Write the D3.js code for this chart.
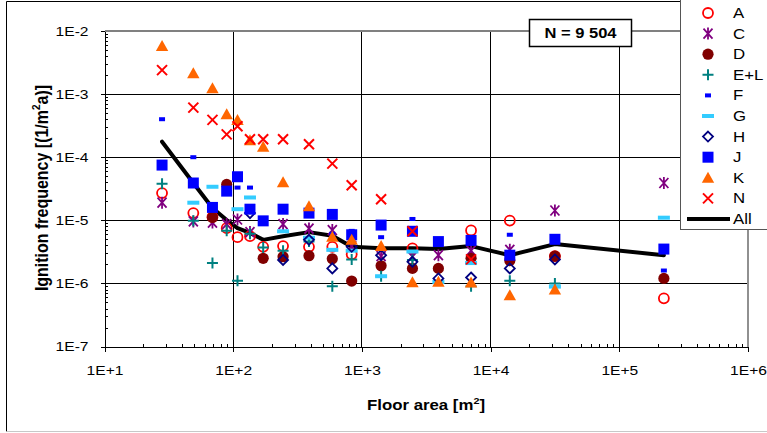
<!DOCTYPE html>
<html>
<head>
<meta charset="utf-8">
<script src="https://cdn.jsdelivr.net/npm/d3@7"></script>
<style>
  body { margin: 0; background: #fff; }
  svg { display: block; font-family: Arial, "Liberation Sans", sans-serif; }
</style>
</head>
<body>
<svg id="chart" width="767" height="433"></svg>
<script>
// Floor-area classes (m²) and ignition frequency per class (1/(m²·a)); null = no value
const floorArea = [28, 49, 69, 89, 108, 135, 171, 244, 388, 589, 833, 1410, 2470, 3930, 7050, 14100, 31600, 222000];

const A   = [2.7e-5, 1.3e-5, 1.13e-5, 7.5e-6, 5.4e-6, 5.6e-6, 3.8e-6, 3.9e-6, 3.8e-6, 3.8e-6, 2.9e-6, null, 3.6e-6, null, 6.9e-6, 9.9e-6, 2.7e-6, 5.8e-7];
const C   = [1.9e-5, 9.6e-6, 9.2e-6, 8.7e-6, 1.03e-5, 6.5e-6, null, 8.7e-6, 7.4e-6, 7.0e-6, 3.9e-6, 2.7e-6, 2.65e-6, 2.8e-6, 3.3e-6, 3.4e-6, 1.43e-5, 3.9e-5];
const D   = [null, null, 1.11e-5, 3.7e-5, null, null, 2.5e-6, 2.65e-6, 2.75e-6, 2.46e-6, 1.09e-6, 1.9e-6, 1.73e-6, 1.73e-6, 2.5e-6, 2.3e-6, 2.7e-6, 1.2e-6];
const EL  = [3.8e-5, 9.8e-6, 2.1e-6, 6.8e-6, 1.1e-6, 6.1e-6, 3.7e-6, 3.3e-6, 4.6e-6, 9.0e-7, 2.4e-6, 1.3e-6, 2.35e-6, null, 9.0e-7, 1.1e-6, 1.0e-6, null];
const F   = [4.0e-4, 1.0e-4, null, null, 3.3e-5, 3.3e-5, null, null, null, 6.1e-6, 6.8e-6, 5.4e-6, 1.05e-5, null, null, 5.9e-6, null, 1.6e-6];
const G   = [null, 1.9e-5, 3.4e-5, null, 1.5e-5, 2.3e-5, null, 6.7e-6, 5.3e-6, 3.4e-6, 3.3e-6, 1.3e-6, 3.2e-6, 1.05e-6, 2.1e-6, null, 8.9e-7, 1.1e-5];
const H   = [null, null, null, null, null, 1.3e-5, null, 2.35e-6, 4.9e-6, 1.73e-6, 3.8e-6, 2.8e-6, 2.2e-6, 1.2e-6, 1.24e-6, 1.73e-6, 2.4e-6, null];
const J   = [7.5e-5, 3.9e-5, 1.6e-5, 2.9e-5, 4.9e-5, 1.5e-5, 9.8e-6, 1.5e-5, 1.3e-5, 1.24e-5, 5.9e-6, 8.4e-6, 6.7e-6, 4.6e-6, 4.8e-6, 2.8e-6, 5.0e-6, 3.5e-6];
const K   = [5.8e-3, 2.14e-3, 1.24e-3, 4.8e-4, 3.9e-4, 1.85e-4, 1.47e-4, 4.0e-5, 1.67e-5, 5.5e-6, 4.9e-6, 3.9e-6, 1.04e-6, 1.06e-6, 1.03e-6, 6.5e-7, 8.0e-7, null];
const N   = [2.4e-3, 6.1e-4, 3.9e-4, 2.3e-4, 3.1e-4, 1.92e-4, 1.92e-4, 1.92e-4, 1.6e-4, 7.9e-5, 3.6e-5, 2.16e-5, 6.7e-6, null, 2.4e-6, null, null, null];
const All = [1.76e-4, 3.9e-5, 1.57e-5, 1.01e-5, 7.5e-6, 6.3e-6, 4.9e-6, 5.6e-6, 6.5e-6, 5.7e-6, 3.8e-6, 3.6e-6, 3.6e-6, 3.5e-6, 3.9e-6, 2.8e-6, 4.2e-6, 2.8e-6];

const xTicks = [1e1, 1e2, 1e3, 1e4, 1e5, 1e6];
const xTickLabels = ["1E+1", "1E+2", "1E+3", "1E+4", "1E+5", "1E+6"];
const yTicks = [1e-7, 1e-6, 1e-5, 1e-4, 1e-3, 1e-2];
const yTickLabels = ["1E-7", "1E-6", "1E-5", "1E-4", "1E-3", "1E-2"];
const sampleSize = "N = 9 504";

// Marker outlines, centred on (0,0)
const shapes = {
  circle:   "M5,0A5,5 0 1,1 -5,0A5,5 0 1,1 5,0Z",
  dot:      "M5.6,0A5.6,5.6 0 1,1 -5.6,0A5.6,5.6 0 1,1 5.6,0Z",
  asterisk: "M-4.5,-5L4.5,5M-4.5,5L4.5,-5M0,-6V6",
  plus:     "M-5.5,0H5.5M0,-5.5V5.5",
  shortBar: "M-3,-2H3V2H-3Z",
  longBar:  "M-6,-2H6V2H-6Z",
  diamond:  "M0,-5L5,0L0,5L-5,0Z",
  square:   "M-5.5,-5.5H5.5V5.5H-5.5Z",
  triangle: "M0,-6L6.2,5L-6.2,5Z",
  cross:    "M-5,-5L5,5M-5,5L5,-5"
};

const series = [
  { name: "A",   values: A,  shape: "circle",   fill: "none",    stroke: "#ff0000", sw: 1.8 },
  { name: "C",   values: C,  shape: "asterisk", fill: "none",    stroke: "#800080", sw: 1.8 },
  { name: "D",   values: D,  shape: "dot",      fill: "#800000", stroke: "none",    sw: 0 },
  { name: "E+L", values: EL, shape: "plus",     fill: "none",    stroke: "#008080", sw: 2 },
  { name: "F",   values: F,  shape: "shortBar", fill: "#0000ff", stroke: "none",    sw: 0 },
  { name: "G",   values: G,  shape: "longBar",  fill: "#33ccff", stroke: "none",    sw: 0 },
  { name: "H",   values: H,  shape: "diamond",  fill: "none",    stroke: "#000080", sw: 1.8 },
  { name: "J",   values: J,  shape: "square",   fill: "#0000ff", stroke: "none",    sw: 0 },
  { name: "K",   values: K,  shape: "triangle", fill: "#ff6600", stroke: "none",    sw: 0 },
  { name: "N",   values: N,  shape: "cross",    fill: "none",    stroke: "#ff0000", sw: 2 }
];

const svg = d3.select("#chart");
const x = d3.scaleLog().domain([1e1, 1e6]).range([104.5, 748]);
const y = d3.scaleLog().domain([1e-7, 1e-2]).range([346.5, 31]);

svg.append("rect").attr("width", 767).attr("height", 433).attr("fill", "#fff");

// outer chart frame
svg.append("path").attr("d", "M6.5,431.5V1.5H767").attr("fill", "none").attr("stroke", "#000");
svg.append("path").attr("d", "M6.5,431.5H767").attr("fill", "none").attr("stroke", "#c8c8c8");

// gridlines at each decade
const grid = svg.append("g").attr("shape-rendering", "crispEdges");
grid.selectAll(".gx").data(xTicks.slice(1, -1)).join("line")
  .attr("x1", d => x(d)).attr("x2", d => x(d)).attr("y1", y(1e-2)).attr("y2", y(1e-7))
  .attr("stroke", "#000");
grid.selectAll(".gy").data(yTicks.slice(1, -1)).join("line")
  .attr("x1", x(1e1)).attr("x2", x(1e6)).attr("y1", d => y(d)).attr("y2", d => y(d))
  .attr("stroke", "#000");

// plot-area border (top and right)
grid.append("line").attr("x1", x(1e1)).attr("x2", x(1e6)).attr("y1", y(1e-2)).attr("y2", y(1e-2))
  .attr("stroke", "#808080").attr("stroke-width", 2);
grid.append("line").attr("x1", x(1e6)).attr("x2", x(1e6)).attr("y1", y(1e-2)).attr("y2", y(1e-7))
  .attr("stroke", "#909090").attr("stroke-width", 1.5);

// minor tick positions (2..9 within each decade)
const minorX = [], minorY = [];
for (let e = 1; e < 6; e++) for (let m = 2; m <= 9; m++) minorX.push(m * Math.pow(10, e));
for (let e = -7; e < -2; e++) for (let m = 2; m <= 9; m++) minorY.push(m * Math.pow(10, e));

const fmtX = d => xTickLabels[xTicks.indexOf(d)];
const fmtY = d => yTickLabels[yTicks.indexOf(d)];

// y axis
const yAxisG = svg.append("g").attr("transform", `translate(${x(1e1)},0)`).attr("shape-rendering", "crispEdges");
yAxisG.call(d3.axisLeft(y).tickValues(yTicks).tickSize(4).tickSizeOuter(0).tickFormat(fmtY));
const yMinor = svg.append("g").attr("transform", `translate(${x(1e1)},0)`).attr("shape-rendering", "crispEdges");
yMinor.call(d3.axisLeft(y).tickValues(minorY).tickSize(-3).tickSizeOuter(0).tickFormat(""));
yMinor.select(".domain").remove();

// x axis
const xAxisG = svg.append("g").attr("transform", `translate(0,${y(1e-7)})`).attr("shape-rendering", "crispEdges");
xAxisG.call(d3.axisBottom(x).tickValues(xTicks).tickSize(5).tickSizeOuter(0).tickFormat(fmtX));
const xMinor = svg.append("g").attr("transform", `translate(0,${y(1e-7)})`).attr("shape-rendering", "crispEdges");
xMinor.call(d3.axisBottom(x).tickValues(minorX).tickSize(-3).tickSizeOuter(0).tickFormat(""));
xMinor.select(".domain").remove();

[yAxisG, xAxisG, yMinor, xMinor].forEach(g => {
  g.selectAll(".domain, line").attr("stroke", "#000");
});
yAxisG.selectAll("text")
  .attr("font-size", 13).attr("font-family", "Arial, 'Liberation Sans', sans-serif").attr("fill", "#000")
  .attr("x", -13.3).attr("dy", "0.34em")
  .attr("transform", "scale(1.2,1)");
xAxisG.selectAll("text")
  .attr("font-size", 13).attr("font-family", "Arial, 'Liberation Sans', sans-serif").attr("fill", "#000")
  .attr("y", 19).attr("dy", "0.71em")
  .attr("transform", "scale(1.2,1)");

// "All" line, beneath the markers
const lineGen = d3.line().defined(d => d[1] != null).x(d => x(d[0])).y(d => y(d[1]));
svg.append("path")
  .attr("d", lineGen(floorArea.map((a, i) => [a, All[i]])))
  .attr("fill", "none").attr("stroke", "#000").attr("stroke-width", 4)
  .attr("stroke-linejoin", "round").attr("stroke-linecap", "round");

// markers
series.forEach(s => {
  const pts = floorArea.map((a, i) => [a, s.values[i]]).filter(d => d[1] != null);
  svg.append("g").selectAll("path").data(pts).join("path")
    .attr("transform", d => `translate(${x(d[0])},${y(d[1])})`)
    .attr("d", shapes[s.shape])
    .attr("fill", s.fill).attr("stroke", s.stroke).attr("stroke-width", s.sw);
});

// sample-size box
svg.append("rect").attr("x", 529.5).attr("y", 19.5).attr("width", 102).attr("height", 27)
  .attr("fill", "#fff").attr("stroke", "#000").attr("stroke-width", 1.5);
svg.append("text").attr("transform", "translate(580.5,38) scale(1.18,1)")
  .attr("text-anchor", "middle").attr("font-size", 14).attr("font-weight", "bold")
  .text(sampleSize);

// axis titles
const xTitle = svg.append("text").attr("transform", "translate(426,410) scale(1.2,1)")
  .attr("text-anchor", "middle").attr("font-size", 14).attr("font-weight", "bold");
xTitle.append("tspan").text("Floor area [m");
xTitle.append("tspan").attr("font-size", 9).attr("dy", -6).text("2");
xTitle.append("tspan").attr("dy", 6).text("]");

const yTitle = svg.append("text").attr("transform", "translate(47.5,188) scale(1.1,1) rotate(-90)")
  .attr("text-anchor", "middle").attr("font-size", 16).attr("font-weight", "bold");
yTitle.append("tspan").text("Ignition frequency [(1/m");
yTitle.append("tspan").attr("font-size", 10).attr("dy", -7).text("2");
yTitle.append("tspan").attr("dy", 7).text("a)]");

// legend
const legend = svg.append("g");
legend.append("rect").attr("x", 680.5).attr("y", -0.5).attr("width", 120).attr("height", 230)
  .attr("fill", "#fff").attr("stroke", "#555");
const rowY = i => 13 + i * 20.6;
series.forEach((s, i) => {
  legend.append("path").attr("transform", `translate(708,${rowY(i)})`)
    .attr("d", shapes[s.shape])
    .attr("fill", s.fill).attr("stroke", s.stroke).attr("stroke-width", s.sw);
  legend.append("text").attr("transform", `translate(733,${rowY(i) + 5}) scale(1.2,1)`)
    .attr("font-size", 14).text(s.name);
});
const lastRow = rowY(series.length);
legend.append("line").attr("x1", 687).attr("x2", 730).attr("y1", lastRow).attr("y2", lastRow)
  .attr("stroke", "#000").attr("stroke-width", 4);
legend.append("text").attr("transform", `translate(733,${lastRow + 5}) scale(1.2,1)`)
  .attr("font-size", 14).text("All");
</script>
</body>
</html>
